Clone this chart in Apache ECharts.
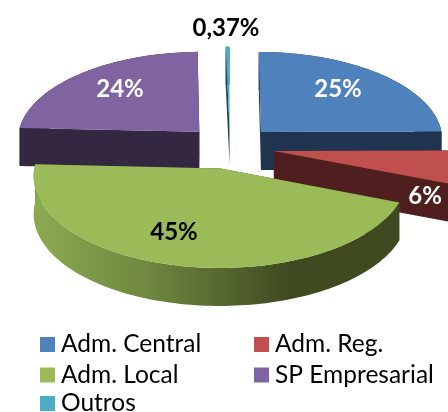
<!DOCTYPE html>
<html>
<head>
<meta charset="utf-8">
<style>
  html, body { margin: 0; padding: 0; background: #fff; }
  #chart { width: 448px; height: 412px; }
</style>
<script src="https://cdn.jsdelivr.net/npm/echarts@6/dist/echarts.min.js"></script>
</head>
<body>
<div id="chart"></div>
<script>
const categories = ['Adm. Central', 'Adm. Reg.', 'Adm. Local', 'SP Empresarial', 'Outros']
const values = [25, 6, 45, 24, 0.37]

const topColors = ['#4f81bd', '#c0504d', '#9bbb59', '#8064a2', '#4bacc6']
const sideColors = ['#1f344f', '#4f1f1f', '#3f4a20', '#342742', '#1f4a55']
const labelColors = ['#fff', '#fff', '#000', '#fff', '#000']
const labelSpots = [[338, 89], [425, 196], [174, 232], [120, 89], [226, 28]]
const drawOrder = [1, 2, 4, 3, 0] // back to front, per slice

// tilted disc seen in perspective
const cx = 230
const cy = 147
const R = 183
const Ry = 88.4
const persp = 0.077
const explode = 0.243
const depth = 38

const total = values.reduce((a, b) => a + b, 0)

const project = (X, Y) => {
  const s = 1 / (1 - persp * Y)
  return [cx + X * R * s, cy + Y * Ry * s]
}

const shifted = (pts) => pts.map((p) => [p[0], p[1] + depth])

const renderSlice = (params, api) => {
  const i = params.seriesIndex
  const before = values.slice(0, i).reduce((a, b) => a + b, 0)
  const a0 = (before / total) * Math.PI * 2
  const a1 = ((before + api.value(0)) / total) * Math.PI * 2
  const mid = (a0 + a1) / 2
  const ox = explode * Math.sin(mid)
  const oy = -explode * Math.cos(mid)

  const apex = project(ox, oy)
  const arc = []
  const steps = Math.max(4, Math.ceil((a1 - a0) * 40))
  for (let k = 0; k <= steps; k++) {
    const a = a0 + ((a1 - a0) * k) / steps
    arc.push(project(ox + Math.sin(a), oy - Math.cos(a)))
  }

  const wall = (pts, fill, z2) => ({
    type: 'polygon',
    z2,
    shape: { points: pts.concat(shifted(pts).reverse()) },
    style: { fill },
  })

  const base = drawOrder[i] * 10
  // 左边浅，往右渐暗，只有绿色这块有
  const arcFill =
    i === 2
      ? new echarts.graphic.LinearGradient(33, 0, 290, 0, [
          { offset: 0, color: '#8cab50' },
          { offset: 0.45, color: '#6f8740' },
          { offset: 1, color: '#3f4a20' },
        ], true)
      : sideColors[i]

  return {
    type: 'group',
    children: [
      wall([apex, arc[0]], sideColors[i], base),
      wall([apex, arc[arc.length - 1]], sideColors[i], base),
      wall(arc, arcFill, base + 1),
      {
        type: 'polygon',
        z2: base + 2,
        shape: { points: [apex].concat(arc) },
        style: { fill: topColors[i] },
      },
      {
        type: 'text',
        z2: 100,
        x: labelSpots[i][0],
        y: labelSpots[i][1],
        style: {
          text: String(api.value(0)).replace('.', ',') + '%',
          fill: labelColors[i],
          font: 'bold 24px Lato',
          align: 'center',
          verticalAlign: 'middle',
        },
      },
    ],
  }
}

const legendBase = {
  orient: 'vertical',
  icon: 'rect',
  itemWidth: 15,
  itemHeight: 15,
  itemGap: 5.5,
  padding: 0,
  textStyle: { fontFamily: 'Lato', fontSize: 24.5, color: '#000', padding: [0, 0, 0, 1] },
}

const chart = echarts.init(document.getElementById('chart'))
chart.setOption({
  animation: false,
  backgroundColor: '#fff',
  legend: [
    { ...legendBase, data: [categories[0], categories[2]], left: 40, top: 332 },
    { ...legendBase, data: [categories[1], categories[3]], left: 254, top: 332 },
    { ...legendBase, data: [categories[4]], left: 40, top: 391 },
  ],
  series: categories.map((name, i) => ({
    name,
    type: 'custom',
    coordinateSystem: 'none',
    silent: true,
    itemStyle: { color: topColors[i] },
    renderItem: renderSlice,
    data: [[values[i]]],
  })),
})
</script>
</body>
</html>
